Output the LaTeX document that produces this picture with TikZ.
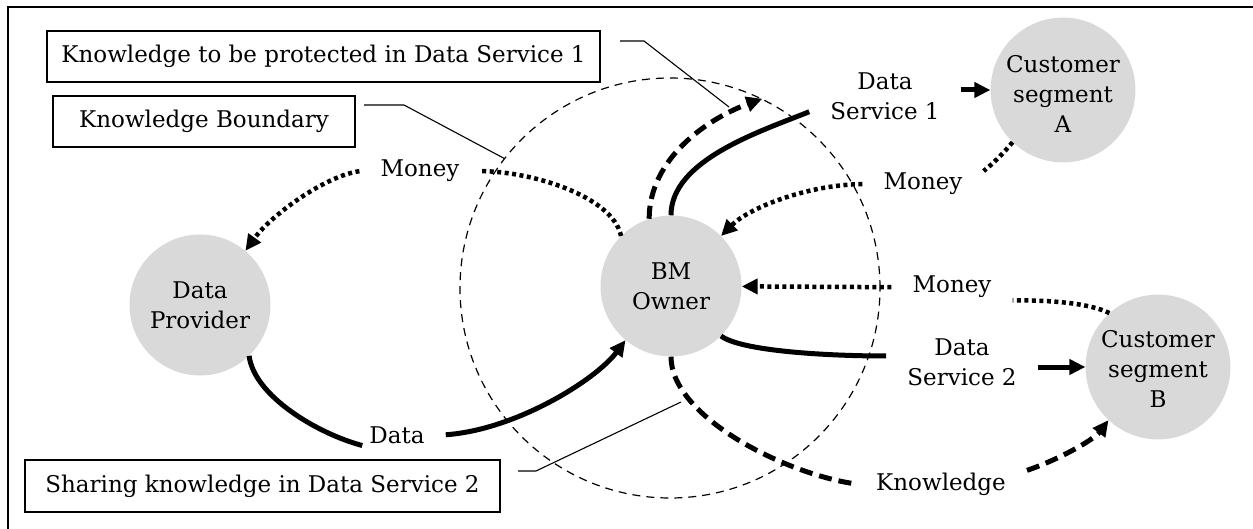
\documentclass[tikz,border=0pt]{standalone}
\usepackage{fontspec}
\setmainfont{DejaVu Serif}
\usetikzlibrary{arrows.meta}
\definecolor{nodegray}{RGB}{217,217,217}
\newcommand\dfs{\fontsize{23}{30}\selectfont}
\newcommand\lowtext[2]{\raisebox{-#1}[\height][\depth]{\begin{tabular}{@{}c@{}}#2\end{tabular}}}
\begin{document}
\begin{tikzpicture}[x=1pt,y=-1pt,
  every node/.style={font=\dfs},
  actor/.style={circle,fill=nodegray,minimum size=141pt,inner sep=0pt,align=center},
  lbl/.style={inner xsep=21pt,inner ysep=2pt,align=center},
  callout/.style={draw,line width=1.2pt,inner sep=0pt,minimum height=51pt},
  leader/.style={line width=1.1pt},
  flow/.style={line width=5pt},
  kflow/.style={line width=5pt,dash pattern=on 13pt off 7pt},
  mflow/.style={line width=4.5pt,dash pattern=on 4pt off 3.5pt},
  tip/.style={-{Triangle[length=16pt,width=15pt]}},
  boundary/.style={circle,draw,dash pattern=on 8pt off 6pt,line width=1.2pt,minimum size=420pt,inner sep=0pt}
]
\useasboundingbox (0,0) rectangle (1253,529);
\draw[line width=2.2pt] (8,531) -- (8,7) -- (1255,7);

% knowledge boundary
\node[boundary] (KB) at (670,288) {};

% actors
\node[actor] (DP) at (200,305) {Data\\Provider};
\node[actor] (BM) at (671,286) {BM\\Owner};
\node[actor] (CA) at (1063,90) {\lowtext{7pt}{Customer\\segment\\A}};
\node[actor] (CB) at (1158,367) {\lowtext{5pt}{Customer\\segment\\B}};

% flow labels
\node[lbl,anchor=base] (moneyL) at (420,177) {Money};
\node[lbl,anchor=base] (moneyA) at (923,190) {Money};
\node[lbl,anchor=base] (moneyB) at (952,293) {Money};
\node[lbl,anchor=base] (data) at (397,443) {Data};
\node[lbl,anchor=base] (know) at (941,490) {Knowledge};
\node[lbl] (ds1) at (885,96) {Data\\Service 1};
\node[lbl] (ds2) at (962,362) {Data\\Service 2};

% callout boxes
\node[callout,minimum width=553pt] (box1) at (323.5,56.5) {Knowledge to be protected in Data Service 1};
\node[callout,minimum width=302pt] (box2) at (204,121.5) {Knowledge Boundary};
\node[callout,minimum width=475pt,minimum height=52pt] (box3) at (262.5,486) {Sharing knowledge in Data Service 2};

% money flows (dotted)
\draw[mflow] (BM.135) .. controls +(-8,-40) and +(50,0) .. (moneyL.east);
\draw[mflow,tip] (moneyL.west) .. controls +(-35,5) and +(25,-35) .. (DP.50);
\draw[mflow] (CA.226) .. controls +(-10,12) and +(10,-8) .. (moneyA.north east);
\draw[mflow,tip] (moneyA.west) .. controls +(-50,0) and +(30,-30) .. (BM.45);
\draw[mflow] (CB.132) .. controls +(-25,-12) and +(25,0) .. (moneyB.south east);
\draw[mflow,tip] (moneyB.west) -- (BM);

% data flows (solid)
\draw[flow] (DP.314) .. controls +(5,40) and +(-45,-12) .. ([xshift=14pt]data.south west);
\draw[flow,tip] (data.east) .. controls +(70,-5) and +(-30,40) .. (BM.230);
\draw[flow] (BM.90) .. controls +(0,-55) and +(-50,20) .. ([yshift=10pt]ds1.south west);
\draw[flow,tip] (ds1.east |- CA.west) -- (CA.west);
\draw[flow] (BM.-45) .. controls +(20,15) and +(-60,0) .. ([yshift=6pt]ds2.west);
\draw[flow,tip] (ds2.east |- CB.west) -- (CB.west);

% knowledge flows (dashed)
\draw[kflow,tip] (BM.108) .. controls +(0,-60) and +(-55,20) .. (KB.64);
\draw[kflow] (BM.270) .. controls +(0,60) and +(-70,-10) .. (know.west);
\draw[kflow,tip] (know.north east) .. controls +(30,-10) and +(-15,20) .. (CB.227);

% leader lines
\coordinate (l1a) at (620,41);
\coordinate (l1b) at (644,41);
\coordinate (l1c) at (729,107);
\draw[leader] (l1a) -- (l1b) -- (l1c);
\coordinate (l2a) at (364,105);
\coordinate (l2b) at (404,105);
\draw[leader] (l2a) -- (l2b) -- (KB.142);
\coordinate (l3a) at (518,471);
\coordinate (l3b) at (536,471);
\coordinate (l3c) at (681,402);
\draw[leader] (l3a) -- (l3b) -- (l3c);
\end{tikzpicture}
\end{document}
